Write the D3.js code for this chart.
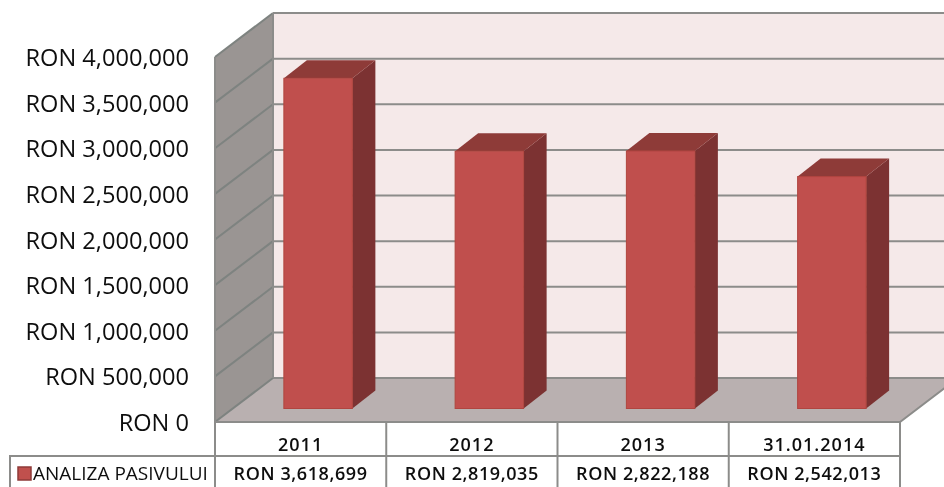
<!DOCTYPE html>
<html><head><meta charset="utf-8">
<script src="https://cdn.jsdelivr.net/npm/d3@7"></script>
<style>html,body{margin:0;padding:0;background:#fff}svg{display:block}text{font-family:"Open Sans","Noto Sans",sans-serif;fill:#111}</style>
</head><body><svg id="c" width="944" height="487"></svg>
<script>
const categories = ["2011","2012","2013","31.01.2014"];
const values = [3618699,2819035,2822188,2542013];
const valueLabels = ["RON 3,618,699","RON 2,819,035","RON 2,822,188","RON 2,542,013"];
const ticks = [0,500000,1000000,1500000,2000000,2500000,3000000,3500000,4000000];
const seriesName = "ANALIZA PASIVULUI";

const svg = d3.select("#c");
const defs=svg.append("defs");
defs.append("filter").attr("id","soft").append("feGaussianBlur").attr("stdDeviation",0.35);
const W=215,R=900,B=422,T=57,DX=58,DY=-44;
const y = d3.scaleLinear().domain([0,4000000]).range([B,T]);
const x = d3.scaleBand().domain(categories).range([W,R]);
const bw=68.5, bdx=23, bdy=-18, baseOff=-13.5, barShift=17.5;
const gridC="#8c8c8a", wallGrid="#7e8380";
const pts=a=>a.map(p=>p.join(",")).join(" ");

// walls and floor
svg.append("polygon").attr("points",pts([[W+DX,y(4000000)+DY],[944,y(4000000)+DY],[944,y(0)+DY],[W+DX,y(0)+DY]])).attr("fill","#f5e9e9");
svg.append("polygon").attr("points",pts([[W,y(4000000)],[W+DX,y(4000000)+DY],[W+DX,y(0)+DY],[W,y(0)]])).attr("fill","#9a9593");
svg.append("polygon").attr("points",pts([[W,B],[W+DX,B+DY],[R+DX,B+DY],[R,B]])).attr("fill","#b9b0b0");

// gridlines
const g=svg.append("g").attr("stroke",gridC).attr("stroke-width",2).attr("fill","none").attr("filter","url(#soft)");
ticks.forEach(t=>{
  g.append("path").attr("d",`M${W+DX},${y(t)+DY}L944,${y(t)+DY}`);
  g.append("path").attr("d",`M${W},${y(t)}L${W+DX},${y(t)+DY}`).attr("stroke",wallGrid);
});
g.append("path").attr("d",`M${W},${y(4000000)}L${W},${B}`);
g.append("path").attr("d",`M${W+DX},${y(4000000)+DY}L${W+DX},${B+DY}`);
g.append("path").attr("d",`M${W},${B}L${R},${B}L${R+DX},${B+DY}`);

// bars
const bars=svg.selectAll("g.bar").data(categories.map((c,i)=>({c,v:values[i]}))).join("g").attr("class","bar").attr("filter","url(#soft)");
const bx=d=>x(d.c)+x.bandwidth()/2-bw/2+barShift;
const by=d=>y(d.v)+baseOff;
const by0=y(0)+baseOff;
bars.append("polygon").attr("fill","#7b3230").attr("points",d=>pts([[bx(d)+bw,by(d)],[bx(d)+bw+bdx,by(d)+bdy],[bx(d)+bw+bdx,by0+bdy],[bx(d)+bw,by0]]));
bars.append("polygon").attr("fill","#8e3a38").attr("points",d=>pts([[bx(d),by(d)],[bx(d)+bdx,by(d)+bdy],[bx(d)+bw+bdx,by(d)+bdy],[bx(d)+bw,by(d)]]));
bars.append("rect").attr("x",bx).attr("y",by).attr("width",bw).attr("height",d=>by0-by(d)).attr("fill","#c0504d").attr("stroke","#b0453f").attr("stroke-width",1);

// y tick labels
const labels=svg.append("g").attr("filter","url(#soft)");
labels.selectAll("text.tick").data(ticks).join("text").attr("class","tick")
  .attr("x",189).attr("y",d=>y(d)+9).attr("text-anchor","end").attr("font-size",23.6)
  .text(d=>d===0?"RON 0":"RON "+d3.format(",")(d));

// table
const RowM=456, TB=490, LX=10;
const tg=svg.append("g").attr("stroke",gridC).attr("stroke-width",2).attr("fill","none").attr("filter","url(#soft)");
tg.append("path").attr("d",`M${LX},${TB}L${LX},${RowM}L${R},${RowM}`);
[W].concat(categories.map(c=>x(c)+x.bandwidth())).forEach(px=>{
  tg.append("path").attr("d",`M${px},${B}L${px},${TB}`);
});
categories.forEach((c,i)=>{
  const cx=x(c)+x.bandwidth()/2;
  labels.append("text").attr("x",cx).attr("y",451).attr("text-anchor","middle").attr("font-size",18).attr("font-weight",600).attr("letter-spacing",1).text(c);
  labels.append("text").attr("x",cx).attr("y",480).attr("text-anchor","middle").attr("font-size",18).attr("font-weight",600).attr("letter-spacing",0.6).text(valueLabels[i]);
});
svg.append("rect").attr("x",18).attr("y",467).attr("width",13).attr("height",13).attr("fill","#c0504d").attr("stroke","#8e3a38").attr("stroke-width",1.5);
labels.append("text").attr("x",33).attr("y",480).attr("font-size",19).text(seriesName);
</script></body></html>
